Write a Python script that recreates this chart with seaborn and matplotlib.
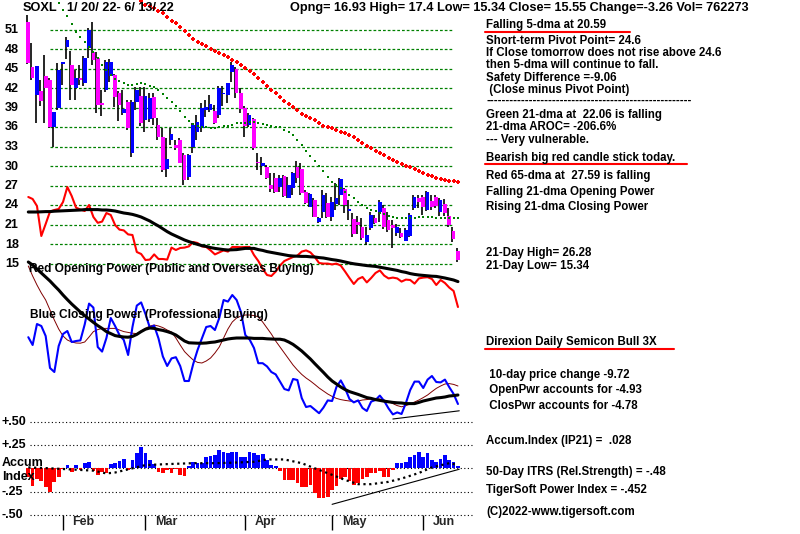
import numpy as np
import pandas as pd
import matplotlib
matplotlib.use("Agg")
import matplotlib.pyplot as plt
from matplotlib.lines import Line2D
import seaborn as sns

# ---------------- data ----------------
opens = [52.28, 45.35, 41.0, 41.66, 43.92, 43.31, 36.12, 39.0, 45.82, 48.38,
         45.62, 42.08, 43.66, 42.85, 48.23, 47.66, 46.69, 39.72, 41.77, 43.92,
         44.08, 41.31, 38.23, 39.97, 32.03, 39.97, 40.85, 37.15, 37.26, 40.74,
         36.38, 34.58, 29.62, 34.08, 33.31, 34.08, 31.77, 28.43, 32.95, 35.35,
         35.92, 38.69, 38.69, 38.54, 37.92, 41.15, 41.0, 44.58, 44.95, 41.35,
         39.0, 36.38, 37.31, 30.74, 30.08, 29.97, 27.15, 28.23, 26.89, 28.54,
         25.11, 26.69, 29.97, 29.62, 26.12, 23.82, 24.85, 21.51, 23.05, 24.34,
         22.28, 24.23, 25.62, 26.54, 23.2, 21.88, 21.51, 20.69, 18.43, 20.49,
         22.03, 23.05, 23.57, 21.77, 21.0, 19.72, 19.72, 18.58, 19.31, 23.57,
         25.11, 25.23, 23.31, 24.74, 25.35, 23.05, 24.23, 22.38, 20.12, 16.93]
closes = [45.92, 43.57, 45.46, 40.12, 42.08, 36.12, 38.38, 44.85, 45.92, 49.46,
          42.54, 43.62, 43.31, 46.69, 51.0, 46.38, 39.46, 39.46, 46.12, 46.12,
          40.74, 39.46, 38.85, 35.92, 39.97, 41.77, 36.69, 40.85, 40.49, 37.42,
          34.58, 29.46, 31.15, 35.0, 32.85, 30.58, 27.92, 31.77, 36.38, 36.89,
          39.0, 39.08, 39.62, 36.69, 42.08, 41.31, 42.8, 45.62, 41.35, 38.8,
          36.23, 37.92, 32.8, 30.49, 30.58, 28.18, 26.54, 26.12, 28.18, 25.46,
          27.15, 28.95, 28.18, 25.92, 24.43, 25.77, 22.28, 22.03, 25.62, 22.18,
          24.58, 25.11, 28.08, 24.08, 23.41, 19.62, 21.0, 18.95, 19.46, 22.54,
          21.35, 24.58, 20.74, 20.23, 20.54, 20.74, 19.11, 20.23, 22.54, 25.35,
          24.58, 23.72, 26.1, 23.82, 23.92, 24.85, 22.8, 21.0, 18.81, 15.55]
highs = [53.31, 48.95, 45.46, 43.31, 47.15, 43.62, 38.38, 45.92, 46.08, 49.92,
         47.77, 44.85, 45.62, 47.0, 51.31, 52.28, 47.62, 41.77, 46.38, 46.54,
         44.23, 41.62, 41.77, 40.23, 40.23, 42.23, 42.23, 42.23, 41.35, 41.31,
         37.42, 35.92, 34.38, 35.92, 34.08, 34.38, 32.08, 31.92, 36.69, 37.92,
         39.77, 40.23, 41.0, 39.46, 42.38, 42.38, 42.89, 46.12, 45.35, 42.03,
         39.31, 38.27, 37.46, 32.12, 31.51, 30.23, 29.0, 28.95, 28.69, 28.69,
         28.43, 29.2, 30.89, 30.49, 26.38, 25.97, 25.11, 22.23, 26.38, 25.97,
         25.35, 27.41, 28.28, 26.69, 24.85, 22.8, 22.38, 22.08, 20.74, 23.05,
         22.54, 24.85, 24.08, 23.05, 21.77, 21.11, 20.49, 20.54, 22.89, 25.62,
         25.62, 25.62, 26.28, 25.62, 25.62, 25.11, 25.03, 23.57, 20.65, 17.4]
lows = [45.77, 43.31, 36.69, 39.31, 36.69, 35.92, 33.05, 38.69, 42.54, 46.54,
        40.23, 40.23, 42.54, 42.38, 46.69, 45.62, 38.23, 37.77, 41.51, 43.05,
        39.15, 36.98, 37.92, 35.62, 31.46, 38.69, 36.23, 35.35, 36.89, 36.38,
        34.08, 29.15, 28.43, 33.31, 32.54, 30.49, 27.15, 27.92, 32.08, 34.08,
        35.31, 37.62, 38.38, 36.54, 37.46, 39.31, 39.77, 43.05, 40.58, 38.27,
        34.58, 36.12, 32.54, 29.46, 28.69, 28.08, 26.08, 25.92, 26.12, 25.31,
        25.11, 25.62, 27.45, 25.62, 24.23, 23.72, 22.18, 21.31, 22.03, 22.03,
        21.66, 23.31, 24.08, 22.85, 21.77, 19.2, 19.62, 18.69, 17.92, 20.23,
        21.15, 21.51, 20.34, 19.97, 17.41, 19.31, 18.95, 18.54, 19.2, 23.31,
        23.57, 22.54, 23.2, 23.31, 23.57, 22.38, 22.38, 20.74, 18.43, 15.34]

ma21 = [55.15, 54.08, 53.23, 51.85, 50.69, 49.85, 49.08, 48.31, 47.62, 46.69,
        45.54, 44.77, 44.0, 43.51, 43.23, 42.92, 42.54, 42.54, 42.65, 42.85,
        42.74, 42.46, 42.23, 41.77, 41.15, 40.49, 39.88, 39.26, 38.58, 37.69,
        37.0, 36.58, 36.23, 36.08, 36.0, 35.92, 35.92, 36.05, 36.2, 36.23,
        36.46, 36.69, 36.66, 36.69, 36.82, 36.88, 36.74, 36.57, 36.42, 36.26,
        36.15, 36.03, 35.69, 35.26, 34.77, 34.15, 33.31, 32.46, 31.62, 30.92,
        30.08, 29.31, 28.46, 27.69, 27.15, 26.62, 26.11, 25.62, 25.11, 24.59,
        24.08, 23.69, 23.38, 23.15, 22.92, 22.69, 22.43, 22.23, 22.08, 22.03,
        22.03, 22.03, 22.03, 22.18, 22.18, 22.18, 22.18, 22.15, 22.15, 22.15,
        22.15, 22.08, 22.06]
ma65 = [55.46, 54.92, 54.69, 54.31, 53.92, 53.54, 52.95, 52.43, 52.0, 51.42,
        50.85, 50.23, 49.62, 49.15, 48.92, 48.54, 48.12, 47.74, 47.46, 47.11,
        46.77, 46.46, 46.0, 45.65, 45.08, 44.66, 44.18, 43.54, 42.95, 42.35,
        41.77, 41.31, 40.74, 40.15, 39.62, 39.15, 38.69, 38.15, 37.72, 37.42,
        37.08, 36.74, 36.26, 36.08, 35.89, 35.65, 35.38, 35.08, 34.77, 34.49,
        34.0, 33.65, 33.2, 32.82, 32.46, 32.08, 31.77, 31.35, 30.95, 30.62,
        30.42, 30.14, 29.89, 29.66, 29.35, 29.05, 28.74, 28.48, 28.26, 28.06,
        27.95, 27.83, 27.71, 27.59]

open_power = [10.75, 10.25, 8.5, 1.0, 4.0, 7.1, 7.5, 7.75, 9.5, 13.25,
              11.0, 8.1, 7.6, 7.25, 8.75, 5.75, 4.3, 4.6, 6.75, 6.25,
              3.75, 2.6, 2.4, 1.4, 1.25, -3.0, -3.5, -5.0, -4.9, -3.6,
              -4.75, -4.75, -4.9, -1.9, -2.5, -2.0, -1.9, -1.6, -0.5, -0.75,
              -1.6, -1.75, -2.6, -3.6, -3.1, -2.6, -2.9, -1.75, -1.75, -1.8,
              -1.75, -1.75, -3.75, -5.25, -7.2, -8.75, -9.0, -7.9, -6.4, -5.25,
              -4.75, -4.25, -3.9, -2.9, -2.6, -3.1, -4.25, -5.75, -5.9, -5.9,
              -6.1, -5.9, -6.4, -7.9, -9.5, -11.0, -9.75, -9.25, -10.6, -9.5,
              -8.25, -7.6, -8.9, -9.6, -9.4, -9.6, -10.4, -9.9, -10.0, -10.9,
              -9.6, -9.4, -9.3, -9.75, -11.25, -10.0, -10.75, -11.9, -12.75, -16.75]
open_power_ma = [7.0, 7.0, 7.0, 7.05, 7.1, 7.1, 7.2, 7.25, 7.3, 7.35,
                 7.4, 7.45, 7.5, 7.6, 7.6, 7.6, 7.6, 7.5, 7.5, 7.4,
                 7.25, 7.0, 6.75, 6.6, 6.4, 6.1, 5.75, 5.25, 4.75, 4.1,
                 3.5, 2.8, 2.1, 1.5, 1.0, 0.5, 0.0, -0.4, -0.75, -1.1,
                 -1.4, -1.6, -1.9, -2.1, -2.25, -2.4, -2.5, -2.45, -2.4, -2.25,
                 -2.1, -2.1, -2.1, -2.4, -2.6, -2.9, -3.1, -3.3, -3.5, -3.7,
                 -3.9, -4.0, -4.05, -4.1, -4.1, -4.2, -4.25, -4.4, -4.5, -4.7,
                 -4.9, -5.05, -5.25, -5.5, -5.75, -5.95, -6.1, -6.25, -6.4, -6.5,
                 -6.6, -6.8, -7.0, -7.2, -7.4, -7.6, -7.9, -8.1, -8.4, -8.6,
                 -8.75, -8.85, -8.95, -9.05, -9.1, -9.3, -9.5, -9.75, -10.0, -10.4]
close_power = [3.2, 1.25, 6.5, 6.0, 3.5, -4.5, -5.5, 1.0, 4.0, 4.75,
               2.0, 2.25, 2.4, 6.4, 11.6, 10.6, 0.75, -0.4, 3.0, 8.0,
               6.0, 3.75, 2.5, -1.25, 5.75, 11.1, 11.9, 9.0, 5.6, 6.1,
               2.9, -1.6, -4.0, -2.1, -1.8, -4.0, -7.75, -7.75, -3.5, 0.0,
               2.9, 5.75, 6.0, 5.0, 8.0, 12.5, 12.1, 13.75, 12.5, 9.5,
               3.75, 2.6, 0.5, -3.3, -3.3, -4.1, -5.5, -6.1, -7.9, -9.75,
               -10.1, -7.25, -7.5, -12.0, -14.25, -14.0, -14.9, -15.8, -14.4, -12.6,
               -12.75, -9.25, -7.6, -9.6, -12.25, -13.1, -12.6, -14.5, -15.25, -12.9,
               -12.5, -11.4, -12.75, -14.6, -16.1, -15.6, -16.0, -13.25, -10.0, -7.9,
               -7.9, -9.5, -7.4, -6.5, -8.0, -8.1, -7.4, -9.3, -11.0, -13.5]
close_power_ma = [22.0, 21.25, 20.25, 19.25, 18.25, 17.25, 16.1, 15.0, 13.75, 12.6,
                  11.5, 10.5, 9.5, 8.6, 7.75, 6.9, 6.1, 5.4, 4.6, 4.1,
                  3.6, 3.4, 3.25, 3.2, 3.4, 3.9, 4.6, 5.2, 5.5, 5.4,
                  5.1, 4.9, 4.6, 4.25, 3.75, 3.0, 2.25, 1.8, 1.75, 1.7,
                  1.7, 1.75, 1.9, 2.0, 2.25, 2.5, 2.75, 2.9, 3.0, 3.0,
                  3.0, 3.0, 2.9, 2.9, 2.9, 2.8, 2.75, 2.7, 2.7, 2.5,
                  2.0, 1.4, 0.6, -0.25, -1.25, -2.25, -3.4, -4.5, -5.6, -6.75,
                  -7.75, -8.5, -9.25, -9.9, -10.4, -10.75, -11.1, -11.5, -11.9, -12.1,
                  -12.4, -12.6, -12.8, -12.95, -13.1, -13.2, -13.25, -13.4, -13.4, -13.4,
                  -13.1, -12.75, -12.5, -12.25, -12.0, -11.9, -11.75, -11.5, -11.4, -11.25]
close_power_ma2 = [21.0, 18.5, 16.25, 14.25, 12.5, 10.0, 7.5, 5.25, 3.5, 2.5,
                   2.0, 1.75, 1.7, 2.0, 3.25, 4.6, 5.1, 5.4, 5.4, 5.4,
                   5.4, 5.0, 4.6, 4.4, 4.2, 4.1, 4.75, 5.4, 6.0, 6.25,
                   6.0, 5.6, 5.0, 4.5, 3.0, 1.25, -0.4, -1.5, -2.5, -3.1,
                   -3.25, -2.75, -2.0, -0.75, 0.75, 3.0, 5.25, 7.0, 8.0, 8.5,
                   8.75, 8.75, 8.6, 8.3, 7.0, 5.5, 4.0, 2.25, 0.75, -0.75,
                   -2.25, -3.75, -5.0, -6.1, -7.0, -7.75, -8.6, -9.5, -10.25, -11.0,
                   -11.6, -12.1, -12.4, -12.6, -12.75, -12.9, -12.75, -12.5, -12.4, -12.25,
                   -12.1, -12.25, -12.5, -12.9, -13.4, -13.9, -14.2, -13.9, -13.5, -13.0,
                   -12.5, -11.9, -11.25, -10.4, -9.6, -9.0, -8.5, -8.4, -8.6, -9.0]
cp_trend_x = [84, 99.3]
cp_trend_y = [-17.25, -15.2]

accum = [-0.09, -0.19, -0.11, -0.14, -0.2, -0.25, -0.15, -0.09, -0.01, 0.035,
         -0.035, 0.035, -0.02, 0.06, 0.07, -0.025, -0.07, -0.035, -0.045, 0.045,
         0.055, 0.08, 0.105, -0.02, 0.09, 0.16, 0.23, 0.16, 0.09, 0.05,
         -0.035, -0.045, -0.02, -0.055, -0.01, -0.07, -0.08, 0.02, 0.07, 0.06,
         0.055, 0.125, 0.13, 0.14, 0.2, 0.17, 0.16, 0.17, 0.18, 0.125,
         0.125, 0.17, 0.16, 0.14, 0.15, 0.09, 0.035, 0.02, -0.025, -0.12,
         -0.125, -0.125, -0.155, -0.2, -0.2, -0.18, -0.26, -0.32, -0.32, -0.31,
         -0.23, -0.19, -0.11, -0.09, -0.14, -0.18, -0.155, -0.11, -0.09, -0.055,
         -0.045, -0.025, -0.095, -0.09, -0.02, 0.055, 0.06, 0.07, 0.125, 0.14,
         0.17, 0.125, 0.16, 0.09, 0.07, 0.105, 0.14, 0.09, 0.07, 0.028]
accum_ma_x = [0, 5, 9, 15, 18, 20, 24, 27, 32, 38, 43, 47, 52, 55, 59, 63, 66,
              70, 73, 76, 79, 83, 86, 90, 93, 97, 99]
accum_ma_y = [0.01, 0.0, -0.01, -0.025, -0.055, -0.045, 0.0, 0.035, 0.045, 0.055,
              0.055, 0.06, 0.07, 0.095, 0.095, 0.055, 0.0, -0.07, -0.125, -0.17,
              -0.17, -0.145, -0.11, -0.05, 0.01, 0.055, 0.035]
acc_trend_x = [70, 99.3]
acc_trend_y = [-0.386, -0.01]

price_ticks = [51, 48, 45, 42, 39, 36, 33, 30, 27, 24, 21, 18, 15]
accum_ticks = [0.5, 0.25, 0.0, -0.25, -0.5]
accum_tick_labels = ["+.50", "+.25", "", "-.25", "-.50"]
month_idx = [8, 27, 50, 70, 91]
month_labels = ["Feb", "Mar", "Apr", "May", "Jun"]

# ---------------- styling ----------------
sns.set_style("white")
plt.rcParams['font.family'] = ['Liberation Sans', 'DejaVu Sans']
plt.rcParams['font.weight'] = 'bold'

W, H = 800, 534
fig = plt.figure(figsize=(8.0, 5.34), dpi=100)
fig.patch.set_facecolor('white')

XLIM = (-6.52, 177.81)
ax = fig.add_axes([0, 0, 1, 1])
ax.set_xlim(*XLIM)
ax.set_ylim(-26.54, 55.615)
ax.axis('off')

ax_op = ax.twinx(); ax_op.set_ylim(-73.5, 60); ax_op.axis('off')
ax_cp = ax.twinx(); ax_cp.set_ylim(-46, 87.5); ax_cp.axis('off')
ax_ac = ax.twinx(); ax_ac.set_ylim(-0.704, 5.019); ax_ac.axis('off')
for a in (ax_op, ax_cp, ax_ac):
    a.set_xlim(*XLIM)

idx = np.arange(len(closes))
df = pd.DataFrame({'i': idx, 'o': opens, 'c': closes, 'h': highs, 'l': lows})

# green price grid
for p in price_ticks:
    ax.hlines(p, 5, 97.9, colors='#008000', linestyles=(0, (2.2, 1.6)), lw=0.9, zorder=1)

# candles
up = df['c'] >= df['o']
ax.vlines(df['i'] - 0.3, df['l'], df['h'], colors='black', lw=1.2, zorder=2)
bottoms = np.minimum(df['o'], df['c'])
heights = np.maximum(np.abs(df['c'] - df['o']), 0.18)
colors = np.where(up, '#0000FF', '#FF00FF')
ax.bar(df['i'], heights, bottom=bottoms, width=0.85, color=colors, linewidth=0, zorder=3)

# moving averages (dots)
x21 = np.arange(len(closes) - len(ma21), len(closes))
x65 = np.arange(len(closes) - len(ma65), len(closes))
sns.scatterplot(x=x21, y=ma21, ax=ax, marker='s', s=3.5, color='#008000',
                linewidth=0, zorder=4, legend=False)
sns.scatterplot(x=x65, y=ma65, ax=ax, marker='P', s=11, color='#FF0000',
                linewidth=0, zorder=4, legend=False)

# opening power
sns.lineplot(x=idx, y=open_power, ax=ax_op, color='#FF0000', lw=1.5,
             estimator=None, sort=False, zorder=3)
sns.lineplot(x=idx, y=open_power_ma, ax=ax_op, color='black', lw=2.2,
             estimator=None, sort=False, zorder=3)

# closing power
sns.lineplot(x=idx, y=close_power_ma2, ax=ax_cp, color='#800000', lw=0.7,
             estimator=None, sort=False, zorder=3)
sns.lineplot(x=idx, y=close_power, ax=ax_cp, color='#0000FF', lw=1.5,
             estimator=None, sort=False, zorder=3)
sns.lineplot(x=idx, y=close_power_ma, ax=ax_cp, color='black', lw=2.2,
             estimator=None, sort=False, zorder=3)
sns.lineplot(x=cp_trend_x, y=cp_trend_y, ax=ax_cp, color='black', lw=0.8,
             estimator=None, sort=False)

# accumulation index
for t in accum_ticks:
    ax_ac.hlines(t, 0.4, 102.2, colors='black', linestyles=(0, (1, 2.2)), lw=0.8, zorder=1)
acc = np.array(accum)
ax_ac.bar(idx, acc, width=0.85, color=np.where(acc >= 0, '#0000FF', '#FF0000'),
          linewidth=0, zorder=2)
sns.lineplot(x=accum_ma_x, y=accum_ma_y, ax=ax_ac, color='black', lw=1.6,
             linestyle=(0, (1, 1.6)), estimator=None, sort=False, zorder=3)
sns.lineplot(x=acc_trend_x, y=acc_trend_y, ax=ax_ac, color='black', lw=0.8,
             estimator=None, sort=False, zorder=3)

# month ticks and labels
ax_ac.vlines(month_idx, -0.66, -0.5, colors='black', lw=1.0)
for m, lab in zip(month_idx, month_labels):
    ax_ac.text(m + 2.2, -0.575, lab, fontsize=9, fontweight='bold', va='center', ha='left')

# ---------------- texts ----------------
def ftext(x, y, s, size=8.3, color='black', ha='left'):
    fig.text(x / W, 1 - y / H, s, fontsize=size, fontweight='bold', color=color,
             ha=ha, va='center')

for p in price_ticks:
    ypix = 30 + (51 - p) * 6.5
    ftext(5, ypix, str(p), size=9)
for t, lab in zip(accum_ticks, accum_tick_labels):
    if lab:
        ftext(2, 468.3 - t * 93.3, lab, size=9)
ftext(2, 463, "Accum", size=9)
ftext(2, 477, "Index", size=9)

ftext(23, 8, "SOXL", size=9.2)
ftext(67, 8, "1/ 20/ 22- 6/ 13/ 22", size=9.2)
ftext(290, 8, "Opng= 16.93 High= 17.4 Low= 15.34 Close= 15.55 Change=-3.26 Vol= 762273", size=9.2)

ftext(29, 269, "Red Opening Power (Public and Overseas Buying)", size=8.6)
ftext(30, 315, "Blue Closing Power (Professional Buying)", size=8.6)

right = [
    (25, "Falling 5-dma at 20.59"),
    (41, "Short-term Pivot Point= 24.6"),
    (53, "If Close tomorrow does not rise above 24.6"),
    (65, "then 5-dma will continue to fall."),
    (78, "Safety Difference =-9.06"),
    (90, " (Close minus Pivot Point)"),
    (101, "-----------------------------------------------------"),
    (115, "Green 21-dma at  22.06 is falling"),
    (127, "21-dma AROC= -206.6%"),
    (140.5, "--- Very vulnerable."),
    (158, "Bearish big red candle stick today."),
    (176, "Red 65-dma at  27.59 is falling"),
    (192, "Falling 21-dma Opening Power"),
    (207, "Rising 21-dma Closing Power"),
    (253, "21-Day High= 26.28"),
    (266, "21-Day Low= 15.34"),
    (342, "Direxion Daily Semicon Bull 3X"),
    (375, " 10-day price change -9.72"),
    (390, " OpenPwr accounts for -4.93"),
    (406, " ClosPwr accounts for -4.78"),
    (441, "Accum.Index (IP21) =  .028"),
    (472, "50-Day ITRS (Rel.Strength) = -.48"),
    (490, "TigerSoft Power Index = -.452"),
    (512, "(C)2022-www.tigersoft.com"),
]
for y, s in right:
    ftext(486, y, s, size=8.3)

for y, x0, x1 in [(32, 485, 630), (164, 485, 687), (349, 485, 674)]:
    fig.add_artist(Line2D([x0 / W, x1 / W], [1 - y / H, 1 - y / H],
                          color='#FF0000', lw=1.5, transform=fig.transFigure))

fig.savefig("out.png", dpi=100, facecolor='white')
